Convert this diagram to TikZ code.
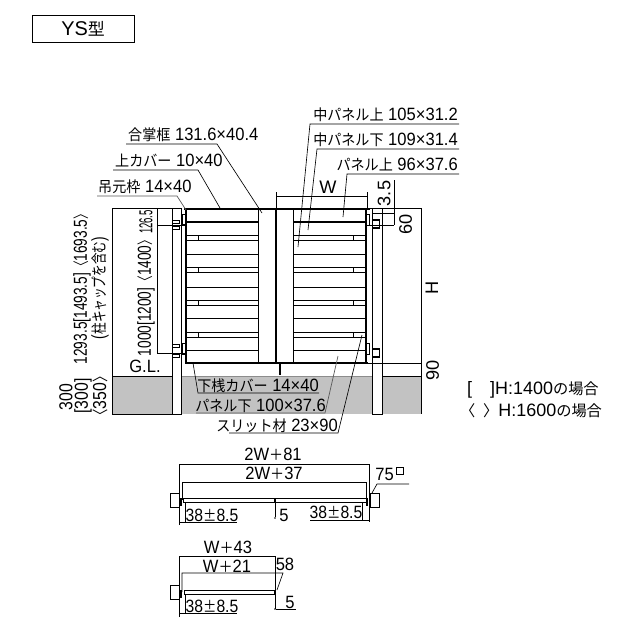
\documentclass[tikz,border=0pt]{standalone}
\usepackage{fontspec}
\setmainfont{Liberation Sans}
\newfontfamily\jpfont[Scale=0.85]{Noto Sans CJK JP}
\newcommand{\jp}[1]{{\jpfont #1}}
\tikzset{
  txt/.style={inner sep=0pt,xscale=0.93,font=\fontsize{15.2}{16}\selectfont},
  rottxt/.style={inner sep=0pt,xscale=0.73,font=\fontsize{16}{17}\selectfont},
  bigtxt/.style={inner sep=0pt,font=\fontsize{15.5}{16}\selectfont},
  notetxt/.style={inner sep=0pt,anchor=base west,font=\fontsize{15.3}{16}\selectfont},
  thinl/.style={draw,line width=0.55pt},
  grayl/.style={draw,line width=0.6pt,black!65},
  heavy/.style={draw,line width=2.1pt},
  mid/.style={draw,line width=1.2pt},
  hinge/.style={draw,fill=white,line width=0.8pt,inner sep=0pt},
}
\begin{document}
\begin{tikzpicture}[x=0.03cm,y=-0.03cm]
\useasboundingbox (0,0) rectangle (622,631);
% title box
\node[draw,line width=0.6pt,minimum width=3.06cm,minimum height=0.81cm,inner sep=0pt,font=\fontsize{17}{18}\selectfont] (title) at (83,28.5) {YS\jp{型}};
% ground
\fill[black!24] (112,376) rectangle (421,414);
\path[thinl] (112,376) -- (172,376);
\path[draw,line width=0.4pt,black!45] (181,376) -- (372,376);
\path[thinl] (372,376) -- (421,376);
% posts
\node[draw,fill=white,line width=0.6pt,inner sep=0pt,minimum width=0.27cm,minimum height=6.18cm,anchor=north west] (postl) at (172,208) {};
\node[draw,fill=white,line width=0.6pt,inner sep=0pt,minimum width=0.3cm,minimum height=6.18cm,anchor=north west] (postr) at (372,208) {};
% left leaf
\path[thinl] (258,209) -- (258,363);
\path[thinl] (293,209) -- (293,363);
\path[mid] (186,222) -- (258,222);
\path[mid] (293,222) -- (366,222);
\foreach \yy in {235,240,254,267,272,287,300,305,318,332,337,350} {
  \path[thinl] (186,\yy) -- (258,\yy);
  \path[thinl] (293,\yy) -- (366,\yy);
}
\foreach \yy in {235,267,300,332} {
  \path[thinl] (198,\yy) -- (198,\yy+5);
  \path[thinl] (353,\yy) -- (353,\yy+5);
}
\path[heavy] (186,208) -- (186,364);
\path[heavy] (276,208) -- (276,364);
\path[mid] (366,209) -- (366,363);
\path[heavy] (184,209) -- (370,209);
\path[heavy] (185,363) -- (368,363);
\path[heavy] (280,363) -- (280,375);
% hinges
\foreach \yy in {222,228,346,356} {
  \node[hinge,minimum width=0.2cm,minimum height=0.07cm] (hl\yy) at (176,\yy) {};
}
\node[hinge,minimum width=0.1cm,minimum height=0.3cm,anchor=north west] (brl1) at (182,214) {};
\node[hinge,minimum width=0.1cm,minimum height=0.33cm,anchor=north west] (brl2) at (182,343) {};
\node[hinge,minimum width=0.1cm,minimum height=0.33cm,anchor=north west] (brr1) at (366,214) {};
\node[hinge,minimum width=0.1cm,minimum height=0.33cm,anchor=north west] (brr2) at (366,343) {};
\node[hinge,line width=1pt,minimum width=0.2cm,minimum height=0.24cm] (hr1) at (376,224) {};
\node[hinge,line width=1pt,minimum width=0.2cm,minimum height=0.24cm] (hr2) at (376,353) {};
% dimensions, gate
\path[thinl] (112,208) -- (172,208);
\path[thinl] (112,208) -- (112,414);
\path[thinl] (112,414) -- (172,414);
\path[thinl] (157,208) -- (157,353);
\path[thinl] (157,225) -- (186,225);
\path[thinl] (157,353) -- (186,353);
\path[thinl] (276,192) -- (276,208);
\path[thinl] (367,192) -- (367,208);
\path[thinl] (276,196) -- (367,196);
\path[thinl] (370,208) -- (421,208);
\path[thinl] (421,208) -- (421,414);
\path[thinl] (394,180) -- (394,225);
\path[thinl] (372,213) -- (394,213);
\path[thinl] (366,225) -- (394,225);
\path[thinl] (368,363) -- (421,363);
\node[bigtxt] (dimw) at (328,187) {W};
\node[rotate=90,bigtxt] (dim35) at (384,193.5) {3.5};
\node[rotate=90,bigtxt] (dim60) at (405.5,224) {60};
\node[rotate=90,bigtxt] (dimh) at (432,288) {H};
\node[rotate=90,bigtxt] (dim90) at (432.5,370) {90};
\node[txt] (dimgl) at (145,366) {G.L.};
\node[rotate=90,rottxt,xscale=0.7] (dim1265) at (146,222) {126.5};
\node[rotate=90,rottxt] (dim1000) at (146,295) {1000[1200]\jp{〈}1400\jp{〉}};
\node[rotate=90,rottxt] (dim1293) at (82,286) {1293.5[1493.5]\jp{〈}1693.5\jp{〉}};
\node[rotate=90,rottxt] (dimcap) at (100,288) {(\jp{柱キャップを含む})};
\node[rotate=90,rottxt,xscale=1.15] (dim300a) at (66,397) {300};
\node[rotate=90,rottxt,xscale=1.15] (dim300b) at (83,396) {[300]};
\node[rotate=90,rottxt,xscale=1.15] (dim350) at (100,396) {\jp{〈}350\jp{〉}};
% leaders, top left
\node[txt,anchor=base west] (lbgassho) at (128,140) {\jp{合掌框} 131.6×40.4};
\node[txt,anchor=base west] (lbue) at (115,166) {\jp{上カバー} 10×40};
\node[txt,anchor=base west] (lbtsuri) at (98,192) {\jp{吊元枠} 14×40};
\coordinate (gassho) at (262,213);
\coordinate (ue) at (220,208);
\coordinate (tsuri) at (186,210);
\path[thinl] (126,144) -- (217,144) -- (gassho);
\path[thinl] (113,170) -- (198,170) -- (ue);
\path[grayl] (97,196) -- (177,196) -- (tsuri);
% leaders, top right
\node[txt,anchor=base east] (lbnakaue) at (458,120.5) {\jp{中パネル上} 105×31.2};
\node[txt,anchor=base east] (lbnakashita) at (458,145.5) {\jp{中パネル下} 109×31.4};
\node[txt,anchor=base east] (lbpanelue) at (458,170.5) {\jp{パネル上} 96×37.6};
\coordinate (nakaue) at (298,247);
\coordinate (nakashita) at (308,230);
\coordinate (panelue) at (343,217);
\path[thinl] (459,124) -- (310,124) -- (nakaue);
\path[thinl] (459,149) -- (317,149) -- (nakashita);
\path[thinl] (459,174) -- (347,174) -- (panelue);
% leaders, bottom
\node[txt,anchor=base east] (lbgesan) at (319,391) {\jp{下桟カバー} 14×40};
\node[txt,anchor=base east] (lbpanelshita) at (326,411) {\jp{パネル下} 100×37.6};
\node[txt,anchor=base east] (lbslit) at (338,431) {\jp{スリット材} 23×90};
\coordinate (gesan) at (193,363);
\coordinate (panelshita) at (338,356);
\coordinate (slit) at (362,335);
\path[thinl] (319,393) -- (198,393) -- (gesan);
\path[grayl] (196,413) -- (325,413) -- (panelshita);
\path[thinl] (229,433) -- (338,433) -- (slit);
% notes
\node[notetxt] (note1a) at (467,394) {[};
\node[notetxt] (note1b) at (490,394) {]H:1400\jp{の場合}};
\node[notetxt] (note2a) at (460,416) {\jp{〈}};
\node[notetxt] (note2b) at (483,416) {\jp{〉}H:1600\jp{の場合}};
% plan, double
\node[txt] (lb2w81) at (273,454) {2W\jp{＋}81};
\node[txt] (lb2w37) at (274,473) {2W\jp{＋}37};
\path[thinl] (179,525) -- (179,464) -- (369,464) -- (369,522);
\path[thinl] (182,500) -- (182,482) -- (366,482) -- (366,500);
\node[hinge,minimum width=0.25cm,minimum height=0.42cm] (pl1) at (175,500) {};
\node[hinge,minimum width=0.25cm,minimum height=0.42cm] (pr1) at (375,500) {};
\path[draw,line width=1.6pt] (181,498) -- (181,506);
\path[draw,line width=1.6pt] (367,498) -- (367,506);
\node[hinge,minimum width=5.49cm,minimum height=0.13cm] (gate1) at (274.5,500.5) {};
\path[draw,line width=1.8pt] (275,498) -- (275,503);
\node[circle,fill,inner sep=0pt,minimum size=0.05cm] (pt5a) at (275,518) {};
\path[thinl] (gate1.south -| pt5a) -- (pt5a);
\node[txt] (lb5a) at (284,515) {5};
\node[txt,anchor=base east] (lb75) at (394,480) {75};
\node[draw,line width=0.4pt,inner sep=0pt,minimum size=0.2cm] (sq75) at (400,471) {};
\coordinate (post75) at (372,493);
\path[thinl] (409,484) -- (377,484) -- (post75);
\node[txt,xscale=0.95] (lb38a) at (212,515) {38\jp{±}8.5};
\node[txt,xscale=0.95] (lb38b) at (336,512) {38\jp{±}8.5};
\path[thinl] (185,503) -- (185,522);
\path[thinl] (179,522) -- (237,522);
\path[thinl] (362,503) -- (362,520);
\path[thinl] (310,520) -- (369,520);
% plan, single
\node[txt] (lbw43) at (228,547) {W\jp{＋}43};
\node[txt] (lbw21) at (227,566) {W\jp{＋}21};
\node[txt] (lb58) at (285,564) {58};
\path[thinl] (179,617) -- (179,556) -- (275,556) -- (275,609);
\path[thinl] (182,592) -- (182,573) -- (283,573) -- (277,590);
\node[hinge,minimum width=0.25cm,minimum height=0.42cm] (pl2) at (175,592) {};
\path[draw,line width=1.6pt] (181,590) -- (181,598);
\node[hinge,minimum width=2.7cm,minimum height=0.13cm] (gate2) at (229,592.5) {};
\path[draw,line width=1.6pt] (275,590) -- (275,595);
\node[txt] (lb5b) at (290,602) {5};
\node[circle,fill,inner sep=0pt,minimum size=0.05cm] (pt5b) at (275,609) {};
\path[thinl] (pt5b) -- (296,609);
\node[txt,xscale=0.95] (lb38c) at (212,606) {38\jp{±}8.5};
\path[thinl] (185,595) -- (185,613);
\path[thinl] (179,613) -- (237,613);
\end{tikzpicture}
\end{document}
